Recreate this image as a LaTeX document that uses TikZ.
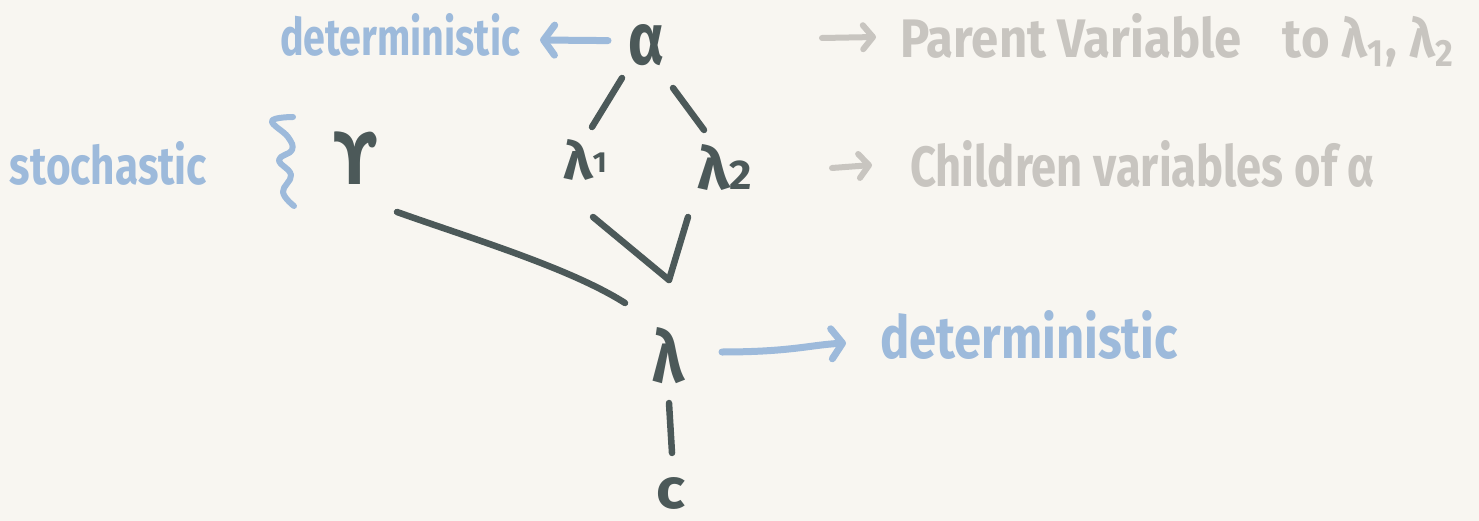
\documentclass[tikz,border=0pt]{standalone}
\usepackage{fontspec}
\setmainfont{Fira Sans}
\newfontfamily\dvfont{DejaVu Sans}
\usepackage{graphicx}
\usetikzlibrary{arrows.meta}
\definecolor{paper}{HTML}{F8F6F1}
\definecolor{inkc}{HTML}{4C5959}
\definecolor{bluec}{HTML}{9DBADB}
\definecolor{greyc}{HTML}{C8C5C0}
\newcommand{\fitbox}[3]{\resizebox{#1pt}{#2pt}{#3}}
\begin{document}
\begin{tikzpicture}[x=1pt,y=-1pt,
  lbl/.style={inner sep=0pt,outer sep=0pt,anchor=base west,font=\bfseries},
  ink/.style={draw=inkc,line width=6.5pt,line cap=round,line join=round},
  blu/.style={draw=bluec,line width=7pt,line cap=round,line join=round},
  gry/.style={draw=greyc,line width=6pt,line cap=round,line join=round},
  tipb/.style={-{Straight Barb[length=11pt,width=30pt,round]}},
  tipg/.style={-{Straight Barb[length=10pt,width=24pt,round]}}
]
\fill[paper] (0,0) rectangle (1479,521);
\useasboundingbox (0,0) rectangle (1479,521);

% labels
\node[lbl,text=bluec] (dettop) at (280,56) {\fitbox{240}{42}{deterministic}};
\node[lbl,text=bluec] (stoch) at (10,185) {\fitbox{197}{43}{stochastic}};
\node[lbl,text=greyc] (parent) at (900,58) {\fitbox{555}{44}{Parent Variable\hspace{0.6em} to λ\textsubscript{1}, λ\textsubscript{2}}};
\node[lbl,text=greyc] (children) at (910,187) {\fitbox{465}{46}{Children variables of α}};
\node[lbl,text=bluec] (detbot) at (880,358) {\fitbox{298}{48}{deterministic}};

% variables
\node[lbl,text=inkc] (alpha) at (628,65) {\fitbox{36}{40}{α}};
\node[lbl,text=inkc] (l1) at (563,180) {\fitbox{44}{40}{λ\raisebox{0.15em}{\scalebox{0.55}{1}}}};
\node[lbl,text=inkc] (l2) at (697,190) {\fitbox{55}{45}{λ\scalebox{0.7}{2}}};
\node[lbl,text=inkc] (ups) at (333,185) {\fitbox{44}{53}{\dvfont\bfseries ϒ}};
\node[lbl,text=inkc] (lam) at (652,382) {\fitbox{32}{55}{λ}};
\node[lbl,text=inkc] (c) at (656,508) {\fitbox{29}{31}{c}};

% connectors
\draw[ink] ([shift={(-6,13)}]alpha.base west) -- ([shift={(29,-13)}]l1.north west);
\draw[ink] ([shift={(9,23)}]alpha.base east) -- ([shift={(7,-15)}]l2.north west);
\draw[ink] ([shift={(30,37)}]l1.base west) -- ([shift={(17,-47)}]lam.north west);
\draw[ink] ([shift={(-9,27)}]l2.base west) -- ([shift={(17,-47)}]lam.north west);
\draw[ink] ([shift={(20,27)}]ups.base east) .. controls (470,238) and (570,268) .. ([shift={(-27,-24)}]lam.north west);
\draw[ink] ([shift={(17,21)}]lam.base west) -- ([shift={(16,-24)}]c.north west);

% arrows
\draw[blu,tipb] ([shift={(-20,-5)}]alpha.west) -- ([shift={(20,-16)}]dettop.base east);
\draw[blu,tipb] ([shift={(38,-30)}]lam.base east) .. controls (790,352) and (810,345) .. ([shift={(-34,-15)}]detbot.base west);
\coordinate (pa) at (822,38);
\draw[gry,tipg] (pa) -- ([shift={(-24,-21)}]parent.base west);
\coordinate (ca) at (832,168);
\draw[gry,tipg] (ca) -- ([shift={(-38,-22)}]children.base west);

% brace
\draw[blu,line width=6pt] plot[smooth,tension=0.7] coordinates {(293,117) (272,121) (288,137) (292,150) (279,160) (291,175) (283,192) (294,206)};
\end{tikzpicture}
\end{document}
